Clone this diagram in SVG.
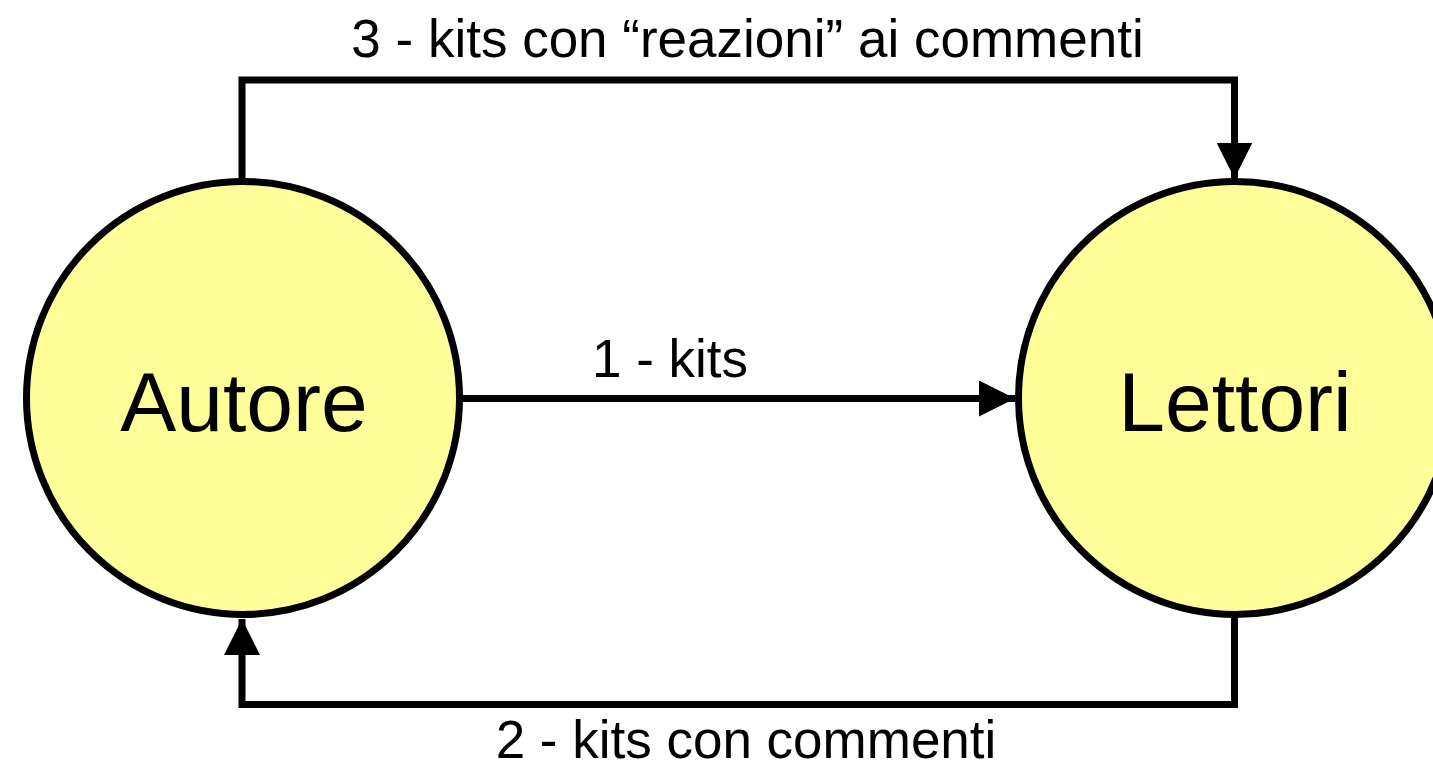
<svg xmlns="http://www.w3.org/2000/svg" width="1433" height="769" viewBox="0 0 1433 769">
<defs>
<marker id="arr" markerUnits="userSpaceOnUse" markerWidth="36" markerHeight="36" viewBox="0 0 34 34" refX="34" refY="17" orient="auto">
<path d="M0,0 L34,17 L0,34 Z" fill="#000"/>
</marker>
<style>
.node{fill:#FFFF99;stroke:#000;stroke-width:7}
.lbl{font-family:"Liberation Sans",Arial,sans-serif;fill:#000;text-anchor:middle}
.big{font-size:84px}
.small{font-size:53px}
.conn{fill:none;stroke:#000;stroke-width:7}
</style>
</defs>
<rect width="1433" height="769" fill="#fff"/>
<g id="connectors">
<path class="conn" d="M242,180 L242,80 L1234.5,80 L1234.5,178.5" marker-end="url(#arr)"/>
<path class="conn" d="M460,398.5 L1015,398.5" marker-end="url(#arr)"/>
<path class="conn" d="M1234.5,617 L1234.5,704.5 L242,704.5 L242,619" marker-end="url(#arr)"/>
</g>
<g id="node-autore">
<circle class="node" cx="243" cy="398" r="216.5"/>
<text class="lbl big" x="244" y="431">Autore</text>
</g>
<g id="node-lettori">
<circle class="node" cx="1235" cy="398" r="216.5"/>
<text class="lbl big" x="1235" y="431">Lettori</text>
</g>
<g id="labels">
<text class="lbl small" x="747.5" y="57">3 - kits con “reazioni” ai commenti</text>
<text class="lbl small" x="670" y="377">1 - kits</text>
<text class="lbl small" x="746" y="758">2 - kits con commenti</text>
</g>
</svg>
